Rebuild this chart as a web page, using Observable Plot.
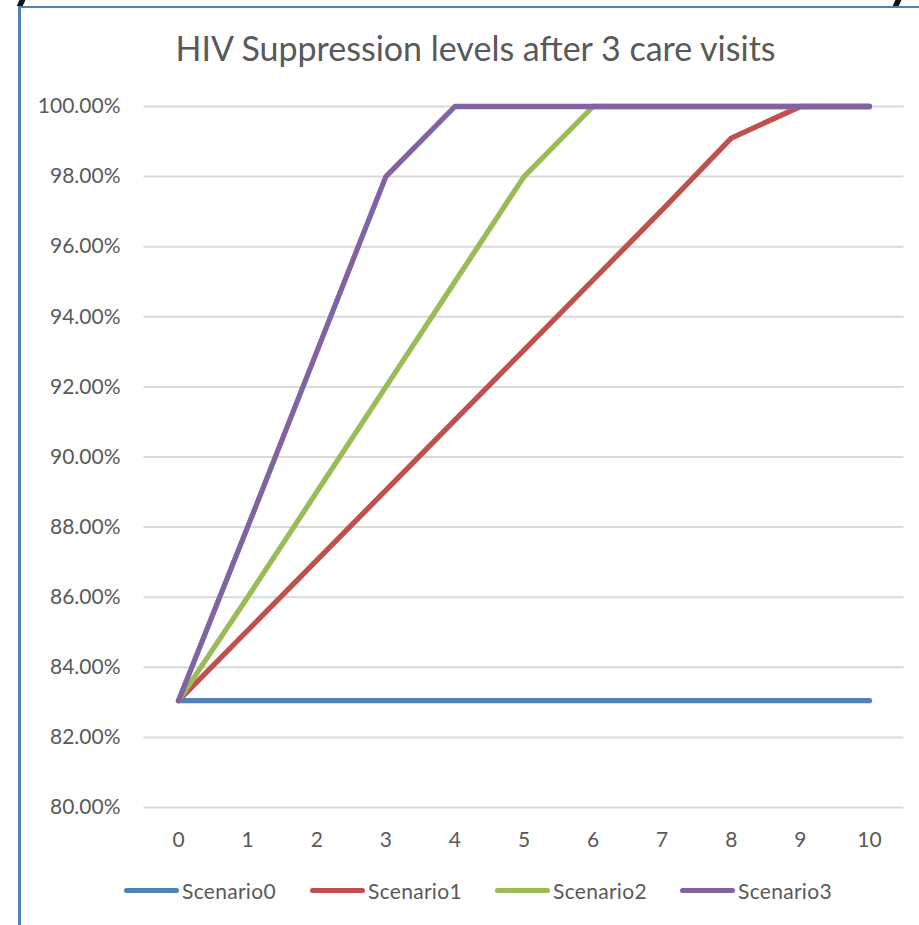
<!DOCTYPE html>
<html><head><meta charset="utf-8">
<script src="https://cdn.jsdelivr.net/npm/d3@7"></script>
<script src="https://cdn.jsdelivr.net/npm/@observablehq/plot@0.6"></script>
<style>
html,body{margin:0;padding:0;background:#fff;overflow:hidden;width:919px;height:925px;}
body{position:relative;font-family:Lato,"Noto Sans",sans-serif;color:#595959;}
#frame{position:absolute;left:18px;top:6px;width:940px;height:940px;border-left:3px solid #4f81bd;border-top:2px solid #4f81bd;box-sizing:border-box;}
.nick{position:absolute;top:-4px;height:10px;width:6px;background:#111;transform:skewX(-25deg);}
#chart{position:absolute;left:0;top:0;}
#title{position:absolute;left:0;top:31px;width:951px;text-align:center;font-size:34px;line-height:1;white-space:nowrap;}
#legend{position:absolute;left:124px;top:878px;height:24px;}
.item{position:absolute;top:0;display:flex;align-items:center;height:24px;font-size:21px;letter-spacing:0.3px;white-space:nowrap;}
.swatch{display:inline-block;width:55px;height:5px;border-radius:3px;margin-right:3px;}
</style></head>
<body>
<div id="frame"></div>
<div class="nick" style="left:19px"></div>
<div class="nick" style="left:895px"></div>
<div id="chart"></div>
<div id="title"></div>
<div id="legend"></div>
<script>
const chartTitle = "HIV Suppression levels after 3 care visits";
const visits = [0, 1, 2, 3, 4, 5, 6, 7, 8, 9, 10];
const seriesNames = ["Scenario0", "Scenario1", "Scenario2", "Scenario3"];
const seriesColors = ["#4f81bd", "#c0504d", "#9bbb59", "#8064a2"];
const scenario0 = [83.05, 83.05, 83.05, 83.05, 83.05, 83.05, 83.05, 83.05, 83.05, 83.05, 83.05];
const scenario1 = [83.05, 85.05, 87.05, 89.05, 91.05, 93.05, 95.05, 97.05, 99.1, 100, 100];
const scenario2 = [83.05, 86.0, 89.0, 92.0, 95.0, 98.0, 100, 100, 100, 100, 100];
const scenario3 = [83.05, 88.0, 93.0, 98.0, 100, 100, 100, 100, 100, 100, 100];
const yTicks = [80, 82, 84, 86, 88, 90, 92, 94, 96, 98, 100];

const seriesValues = [scenario0, scenario1, scenario2, scenario3];
const rows = seriesNames.flatMap((name, i) =>
  visits.map((v, j) => ({series: name, visit: v, value: seriesValues[i][j]})));

const fontFamily = 'Lato, "Noto Sans", sans-serif';
const chart = Plot.plot({
  width: 919,
  height: 925,
  marginLeft: 143.5,
  marginRight: 15.5,
  marginTop: 106,
  marginBottom: 118,
  style: {fontFamily, fontSize: "21px", color: "#595959", background: "transparent", overflow: "visible"},
  x: {domain: [-0.5, 10.5]},
  y: {domain: [80, 100]},
  color: {domain: seriesNames, range: seriesColors},
  marks: [
    Plot.gridY(yTicks, {stroke: "#d9d9d9", strokeOpacity: 1, strokeWidth: 2}),
    Plot.axisY(yTicks, {tickSize: 0, tickPadding: 23.5, label: null, tickFormat: d => d.toFixed(2) + "%", fill: "#595959"}),
    Plot.axisX(visits, {tickSize: 0, tickPadding: 25, label: null, tickFormat: d => String(d), fill: "#595959"}),
    Plot.line(rows, {x: "visit", y: "value", z: "series", stroke: "series", strokeWidth: 5.3, strokeLinecap: "round", strokeLinejoin: "round"})
  ]
});
document.getElementById("chart").appendChild(chart);
document.getElementById("title").textContent = chartTitle;

const legend = document.getElementById("legend");
const legendOffsets = [0, 186, 371, 556];
seriesNames.forEach((name, i) => {
  const item = document.createElement("div");
  item.className = "item";
  item.style.left = legendOffsets[i] + "px";
  const sw = document.createElement("span");
  sw.className = "swatch";
  sw.style.background = seriesColors[i];
  const label = document.createElement("span");
  label.textContent = name;
  item.appendChild(sw);
  item.appendChild(label);
  legend.appendChild(item);
});
</script>
</body></html>
